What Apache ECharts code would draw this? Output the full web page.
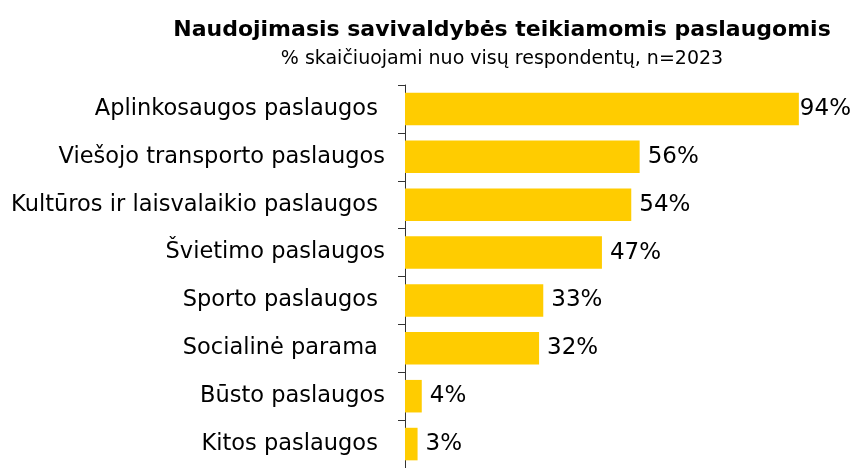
<!DOCTYPE html>
<html>
<head>
<meta charset="utf-8">
<script src="https://cdn.jsdelivr.net/npm/echarts@6/dist/echarts.min.js"></script>
<style>
  html, body { margin: 0; padding: 0; background: #fff; }
  #chart { width: 855px; height: 468px; }
</style>
</head>
<body>
<div id="chart"></div>
<script>
// categories top to bottom (trailing spaces as in the original labels)
const categories = [
  'Aplinkosaugos paslaugos ',
  'Viešojo transporto paslaugos',
  'Kultūros ir laisvalaikio paslaugos ',
  'Švietimo paslaugos',
  'Sporto paslaugos ',
  'Socialinė parama ',
  'Būsto paslaugos',
  'Kitos paslaugos '
]
const values = [94, 56, 54, 47, 33, 32, 4, 3]

const titleText = 'Naudojimasis savivaldybės teikiamomis paslaugomis'
const subtitleText = '% skaičiuojami nuo visų respondentų, n=2023'

const chart = echarts.init(document.getElementById('chart'))

const option = {
  animation: false,
  backgroundColor: '#ffffff',
  title: {
    text: titleText,
    subtext: subtitleText,
    left: 497,
    textAlign: 'center',
    top: 14,
    itemGap: 9,
    textStyle: {
      fontFamily: 'DejaVu Sans',
      fontWeight: 'bold',
      fontSize: 22,
      color: '#000'
    },
    subtextStyle: {
      fontFamily: 'DejaVu Sans',
      fontSize: 19,
      color: '#000'
    }
  },
  grid: {
    left: 405,
    right: 31,
    top: 85,
    height: 388
  },
  xAxis: {
    type: 'value',
    min: 0,
    max: 100,
    show: false
  },
  yAxis: {
    type: 'category',
    data: categories,
    inverse: true,
    axisLine: { show: true, lineStyle: { color: '#333', width: 1 } },
    axisTick: { show: true, length: 7, lineStyle: { color: '#333' } },
    axisLabel: {
      margin: 20,
      fontFamily: 'DejaVu Sans',
      fontSize: 22.5,
      color: '#000'
    }
  },
  series: [
    {
      type: 'bar',
      data: values.map((v, i) => ({
        value: v,
        label: { distance: i === 0 ? 1 : 8 }
      })),
      barCategoryGap: '32%',
      itemStyle: { color: '#FFCC00' },
      label: {
        show: true,
        position: 'right',
        formatter: '{c}%',
        fontFamily: 'DejaVu Sans',
        fontSize: 23,
        color: '#000'
      }
    }
  ]
}

chart.setOption(option)
</script>
</body>
</html>
